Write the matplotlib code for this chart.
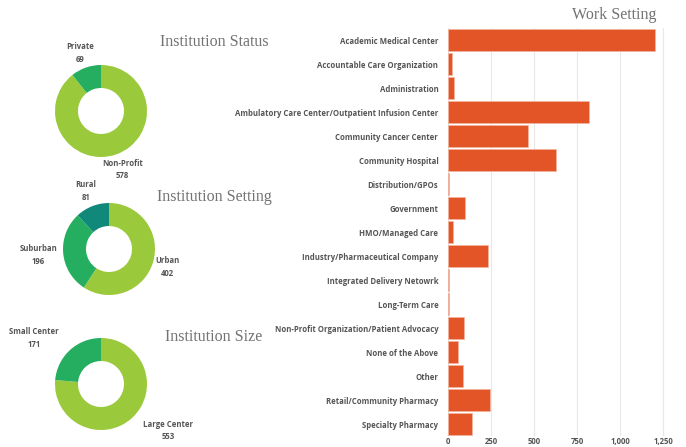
import numpy as np
import matplotlib.pyplot as plt
from matplotlib.ticker import FuncFormatter

# data
work_settings = [
    "Academic Medical Center",
    "Accountable Care Organization",
    "Administration",
    "Ambulatory Care Center/Outpatient Infusion Center",
    "Community Cancer Center",
    "Community Hospital",
    "Distribution/GPOs",
    "Government",
    "HMO/Managed Care",
    "Industry/Pharmaceutical Company",
    "Integrated Delivery Netowrk",
    "Long-Term Care",
    "Non-Profit Organization/Patient Advocacy",
    "None of the Above",
    "Other",
    "Retail/Community Pharmacy",
    "Specialty Pharmacy",
]
work_counts = [1201, 25, 35, 816, 464, 629, 7, 99, 31, 234, 5, 5, 95, 56, 87, 242, 141]

status_labels = ["Non-Profit", "Private"]
status_counts = [578, 69]
setting_labels = ["Urban", "Suburban", "Rural"]
setting_counts = [402, 196, 81]
size_labels = ["Large Center", "Small Center"]
size_counts = [553, 171]

LIGHT = "#9bc93c"
MID = "#26ae60"
TEAL = "#11897a"
ORANGE = "#e35527"
TXT = "#555555"
TITLE = "#737373"

W, H = 686, 447
fig = plt.figure(figsize=(W / 100, H / 100), dpi=100)

lab_font = dict(family=["Open Sans", "DejaVu Sans"], fontweight="bold", fontsize=5.6, color=TXT)
title_font = dict(family=["Liberation Serif", "DejaVu Serif"], fontsize=11.5, color=TITLE)


def px_axes(left, top, width, height):
    return fig.add_axes([left / W, 1 - (top + height) / H, width / W, height / H])


def donut(cx, cy, r, labels, counts, colors, label_pos):
    ax = px_axes(cx - r, cy - r, 2 * r, 2 * r)
    ax.pie(counts, colors=colors, startangle=90, counterclock=False, radius=1,
           wedgeprops=dict(width=0.5, edgecolor="none"))
    ax.set_xlim(-1, 1)
    ax.set_ylim(-1, 1)
    ax.set_aspect("equal")
    ax.axis("off")
    for lab, n, (dx, dy) in zip(labels, counts, label_pos):
        ax.text(dx, dy, f"{lab}\n{n:,}", ha="center", va="center",
                linespacing=1.45, clip_on=False, **lab_font)
    return ax


donut(101, 111, 46, status_labels, status_counts, [LIGHT, MID],
      [(0.46, -1.28), (-0.46, 1.26)])
donut(109, 249, 46, setting_labels, setting_counts, [LIGHT, MID, TEAL],
      [(1.28, -0.39), (-1.54, -0.13), (-0.5, 1.26)])
donut(101, 384, 46, size_labels, size_counts, [LIGHT, MID],
      [(1.46, -1.02), (-1.46, 1.0)])

fig.text(214 / W, 1 - 42 / H, "Institution Status", ha="center", va="center", **title_font)
fig.text(214 / W, 1 - 197 / H, "Institution Setting", ha="center", va="center", **title_font)
fig.text(214 / W, 1 - 337 / H, "Institution Size", ha="center", va="center", **title_font)
fig.text(656 / W, 1 - 15 / H, "Work Setting", ha="right", va="center", **title_font)

# bar chart
ax = px_axes(448, 28, 220, 408)
y = np.arange(len(work_settings))
ax.barh(y, work_counts, height=0.9, color=ORANGE, edgecolor="#f2b59f", linewidth=0.5, zorder=3)
ax.set_yticks(y)
ax.set_yticklabels(work_settings)
ax.set_ylim(len(work_settings) - 0.5, -0.5)
ax.set_xlim(0, 1277)
ax.set_xticks([0, 250, 500, 750, 1000, 1250])
ax.xaxis.set_major_formatter(FuncFormatter(lambda v, p: f"{int(v):,}"))
ax.grid(axis="x", color="#e8e8e8", linewidth=0.8, zorder=0)
ax.tick_params(length=0)
ax.tick_params(axis="y", pad=7)
ax.tick_params(axis="x", pad=1)
for t in ax.get_yticklabels() + ax.get_xticklabels():
    t.set_fontfamily(["Open Sans", "DejaVu Sans"])
    t.set_fontweight("bold")
    t.set_fontsize(5.6)
    t.set_color(TXT)
for s in ax.spines.values():
    s.set_visible(False)

fig.savefig("out.png", dpi=100)
